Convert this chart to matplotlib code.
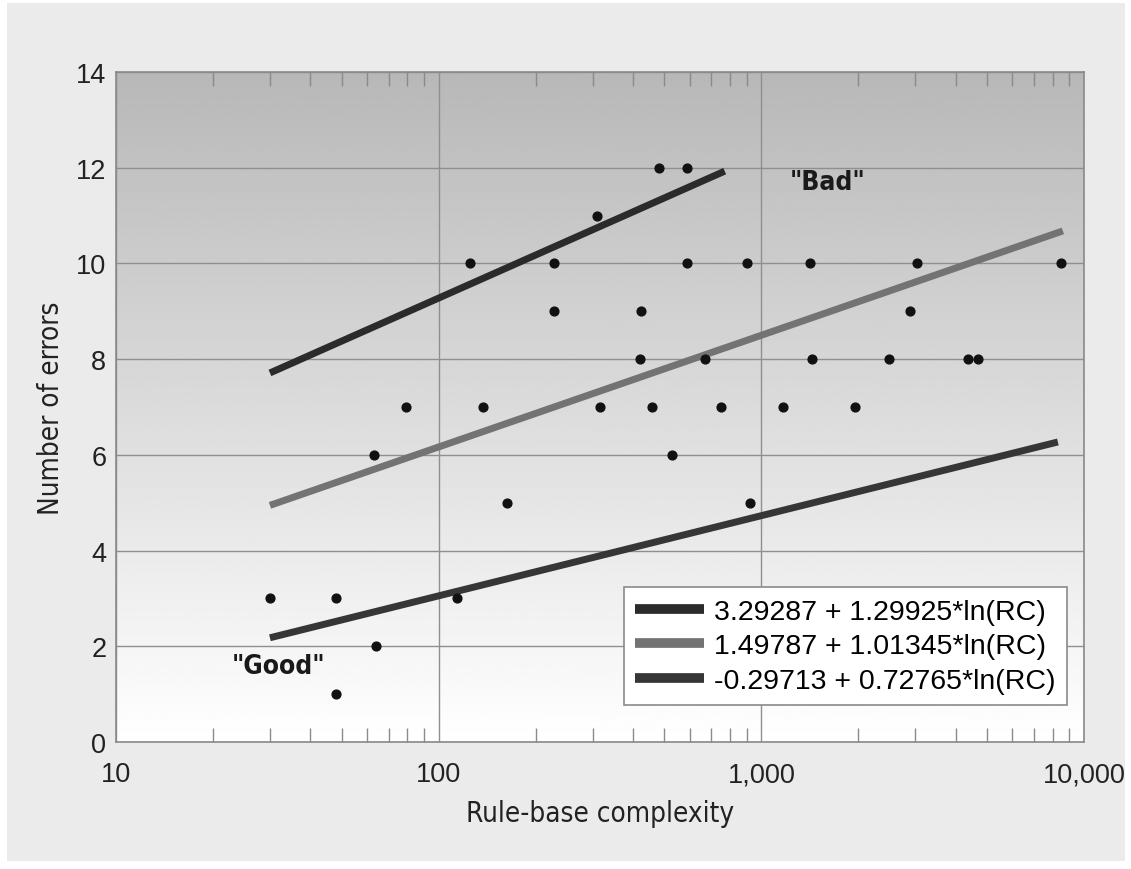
import numpy as np
import matplotlib
matplotlib.use("Agg")
import matplotlib.pyplot as plt
import matplotlib.ticker as mticker
from matplotlib.patches import Rectangle

# points: rule-base complexity, number of errors
rc = [30, 48, 48, 63, 64, 79, 114, 125, 137, 163, 228, 228, 309, 316,
      424, 420, 458, 482, 528, 587, 590, 668, 750, 902, 922, 1167, 1416,
      1435, 1950, 2484, 2885, 3035, 4366, 4690, 8472]
errors = [3, 3, 1, 6, 2, 7, 3, 10, 7, 5, 10, 9, 11, 7,
          9, 8, 7, 12, 6, 12, 10, 8, 7, 10, 5, 7, 10,
          8, 7, 8, 9, 10, 8, 8, 10]

# fitted curves: a + b*ln(RC)
fit_a = [3.29287, 1.49787, -0.29713]
fit_b = [1.29925, 1.01345, 0.72765]
fit_start = [30, 30, 30]
fit_end = [770, 8600, 8300]
fit_labels = ["3.29287 + 1.29925*ln(RC)",
              "1.49787 + 1.01345*ln(RC)",
              "-0.29713 + 0.72765*ln(RC)"]
fit_colors = ["#2b2b2b", "#737373", "#363636"]

fam = ["Liberation Sans", "DejaVu Sans"]
narrow = ["DejaVu Sans"]

fig = plt.figure(figsize=(11.31, 8.70), dpi=100)
fig.patch.set_facecolor("white")
fig.patches.append(Rectangle((7 / 1131, 8 / 870), 1118 / 1131, 858 / 870,
                             transform=fig.transFigure, facecolor="#ebebeb",
                             edgecolor="none", zorder=-10))

ax = fig.add_axes([116 / 1131, 127 / 870, 968 / 1131, 670 / 870])
ax.set_xscale("log")
ax.set_xlim(10, 10000)
ax.set_ylim(0, 14)

# gradient background: dark grey at top to white at bottom
grad = np.linspace(1.0, 0.72, 256).reshape(-1, 1)
ax.imshow(grad, extent=[0, 1, 0, 1], transform=ax.transAxes, cmap="gray",
          vmin=0, vmax=1, aspect="auto", origin="lower", zorder=0)

ax.grid(True, which="major", color="#8f8f8f", lw=1.0, zorder=1)
for s in ax.spines.values():
    s.set_color("#8a8a8a")
    s.set_linewidth(1.2)

for a, b, x0, x1, lab, col in zip(fit_a, fit_b, fit_start, fit_end, fit_labels, fit_colors):
    xs = np.geomspace(x0, x1, 50)
    ax.plot(xs, a + b * np.log(xs), color=col, lw=5, label=lab,
            solid_capstyle="butt", zorder=3)

ax.scatter(rc, errors, s=40, color="#111111", zorder=4)

ax.xaxis.set_major_formatter(mticker.FuncFormatter(lambda v, p: f"{int(v):,}"))
ax.xaxis.set_minor_locator(mticker.LogLocator(base=10, subs=np.arange(2, 10)))
ax.xaxis.set_minor_formatter(mticker.NullFormatter())
ax.tick_params(axis="x", which="minor", direction="in", length=10, width=1,
               color="#8a8a8a", top=True, bottom=True)
ax.tick_params(axis="x", which="major", length=0, pad=14)
ax.tick_params(axis="y", which="major", length=0, pad=7)
ax.set_yticks(range(0, 15, 2))
for t in ax.get_xticklabels() + ax.get_yticklabels():
    t.set_fontfamily(fam)
    t.set_fontsize(19.5)
    t.set_color("#222222")

ax.set_xlabel("Rule-base complexity", family=narrow, stretch="condensed",
              fontsize=20, labelpad=8, color="#222222")
ax.set_ylabel("Number of errors", family=narrow, stretch="condensed",
              fontsize=20, labelpad=8, color="#222222")

ax.text(1607, 11.7, '"Bad"', family=narrow, stretch="condensed", fontsize=19,
        fontweight="bold", ha="center", va="center", zorder=5, color="#1a1a1a")
ax.text(32, 1.59, '"Good"', family=narrow, stretch="condensed", fontsize=19,
        fontweight="bold", ha="center", va="center", zorder=5, color="#1a1a1a")

leg = ax.legend(loc="lower right", bbox_to_anchor=(0.982, 0.055), borderaxespad=0,
                prop={"family": fam, "size": 20.5}, frameon=True, fancybox=False,
                handlelength=2.4, handletextpad=0.35, labelspacing=0.3,
                borderpad=0.4)
leg.get_frame().set_edgecolor("#8a8a8a")
leg.get_frame().set_linewidth(1.2)
leg.get_frame().set_facecolor("white")
leg.get_frame().set_alpha(1)
leg.set_zorder(6)
for h in leg.get_lines():
    h.set_linewidth(7)

fig.savefig("out.png", dpi=100)
